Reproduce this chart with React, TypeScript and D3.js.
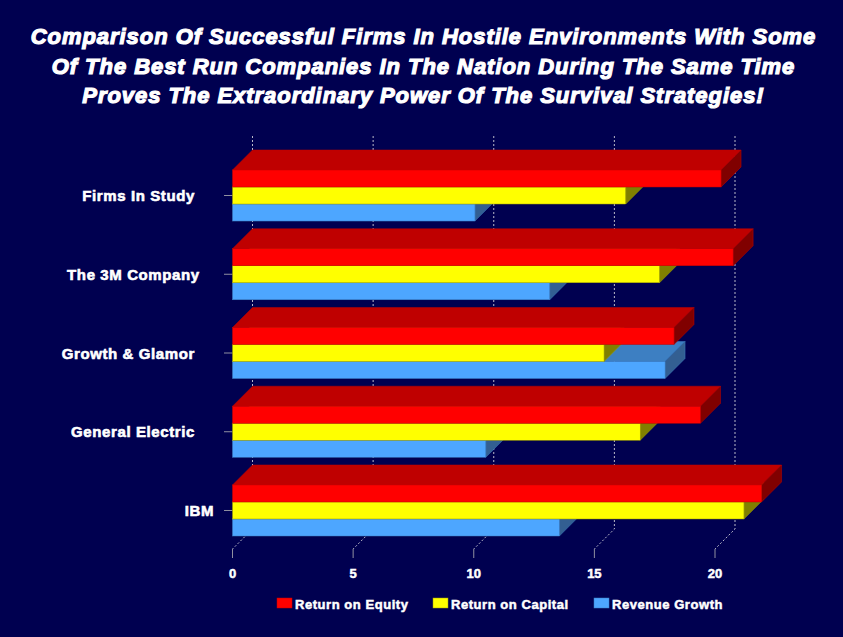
import React from 'react';
import * as d3 from 'd3';

const titleLines = [
    'Comparison Of Successful Firms In Hostile Environments With Some',
    'Of The Best Run Companies In The Nation During The Same Time',
    'Proves The Extraordinary Power Of The Survival Strategies!',
];

// trailing spaces are in the original labels, they shift each one off the axis
const categories = [
    'Firms In Study\u00a0\u00a0\u00a0\u00a0',
    'The 3M Company\u00a0\u00a0\u00a0',
    'Growth & Glamor\u00a0\u00a0\u00a0\u00a0',
    'General Electric\u00a0\u00a0\u00a0\u00a0',
    'IBM',
];
const seriesNames = ['Return on Equity', 'Return on Capital', 'Revenue Growth'];
const returnOnEquity = [20.25, 20.75, 18.3, 19.4, 21.93];
const returnOnCapital = [16.3, 17.7, 15.4, 16.9, 21.2];
const revenueGrowth = [10.05, 13.15, 17.93, 10.5, 13.55];
const seriesValues = [returnOnEquity, returnOnCapital, revenueGrowth];
const xTicks = [0, 5, 10, 15, 20];

const frontColors = ['#ff0000', '#ffff00', '#4da6ff'];
const topColors = ['#bf0000', '#bfbf00', '#3d7fc2'];
const sideColors = ['#800000', '#808000', '#335f92'];
const edgeColors = ['#c00000', '#a0a000', '#3d7fc2'];

const WIDTH = 843;
const HEIGHT = 637;
const BG = '#000050';
const DEPTH = 20;
const FONT = '"Liberation Sans", Arial, sans-serif';

const App: React.FC = () => {
    const x = d3.scaleLinear().domain([0, 20]).range([232.5, 715]);
    const y = d3.scaleBand<string>()
        .domain(categories)
        .range([170, 536])
        .paddingInner(0.352);
    const sub = d3.scaleBand<string>()
        .domain(seriesNames)
        .range([0, y.bandwidth()]);

    const drawOrder = d3.range(seriesNames.length).reverse();

    const legendX = [277, 433, 594];

    return (
        <svg
            width={WIDTH}
            height={HEIGHT}
            style={{ position: 'absolute', left: 0, top: 0, background: BG }}
        >
            <rect width={WIDTH} height={HEIGHT} fill={BG} />

            {titleLines.map((line, i) => (
                <text
                    key={line}
                    x={423.5}
                    y={44 + i * 29.5}
                    textAnchor="middle"
                    fontFamily={FONT}
                    fontSize={22}
                    fontWeight="bold"
                    fontStyle="italic"
                    letterSpacing={0.95}
                    fill="#fff"
                    stroke="#fff"
                    strokeWidth={1.2}
                >
                    {line}
                </text>
            ))}

            {/* grid on the back wall, then down the floor to the axis */}
            {xTicks.map(t => (
                <g key={t}>
                    <path
                        d={`M${x(t) + DEPTH},136V529L${x(t)},549`}
                        fill="none"
                        stroke="#b8b8c8"
                        strokeWidth={1}
                        strokeDasharray="2 2"
                    />
                    <line x1={x(t)} x2={x(t)} y1={549} y2={558} stroke="#9090a0" />
                    <text
                        x={x(t)}
                        y={578}
                        textAnchor="middle"
                        fontFamily={FONT}
                        fontSize={13}
                        fontWeight="bold"
                        fill="#fff"
                        stroke="#fff"
                        strokeWidth={0.5}
                    >
                        {t}
                    </text>
                </g>
            ))}

            {categories.map((c, ci) => {
                const y0 = y(c) as number;
                return (
                    <g key={c}>
                        <line
                            x1={224}
                            x2={x(0)}
                            y1={y0 + y.bandwidth() / 2}
                            y2={y0 + y.bandwidth() / 2}
                            stroke="#9090a0"
                        />
                        <text
                            x={214}
                            y={y0 + y.bandwidth() / 2 + 5.5}
                            textAnchor="end"
                            fontFamily={FONT}
                            fontSize={15}
                            fontWeight="bold"
                            letterSpacing={0.6}
                            fill="#fff"
                            stroke="#fff"
                            strokeWidth={0.6}
                        >
                            {c}
                        </text>
                        {drawOrder.map(si => {
                            const name = seriesNames[si];
                            const top = y0 + (sub(name) as number);
                            const h = sub.bandwidth();
                            const x0 = x(0);
                            const x1 = x(seriesValues[si][ci]);
                            return (
                                <g key={name} stroke={edgeColors[si]} strokeWidth={0.5}>
                                    <path
                                        d={`M${x0},${top}L${x0 + DEPTH},${top - DEPTH}H${x1 + DEPTH}L${x1},${top}Z`}
                                        fill={topColors[si]}
                                    />
                                    <path
                                        d={`M${x1},${top}L${x1 + DEPTH},${top - DEPTH}V${top - DEPTH + h}L${x1},${top + h}Z`}
                                        fill={sideColors[si]}
                                    />
                                    <rect x={x0} y={top} width={x1 - x0} height={h} fill={frontColors[si]} />
                                </g>
                            );
                        })}
                    </g>
                );
            })}

            {seriesNames.map((name, i) => (
                <g key={name}>
                    <rect x={legendX[i]} y={598} width={15} height={10} fill={frontColors[i]} stroke={edgeColors[i]} strokeWidth={0.5} />
                    <text
                        x={legendX[i] + 18}
                        y={608.5}
                        fontFamily={FONT}
                        fontSize={13}
                        fontWeight="bold"
                        letterSpacing={0.55}
                        fill="#fff"
                        stroke="#fff"
                        strokeWidth={0.5}
                    >
                        {name}
                    </text>
                </g>
            ))}
        </svg>
    );
};

export default App;
